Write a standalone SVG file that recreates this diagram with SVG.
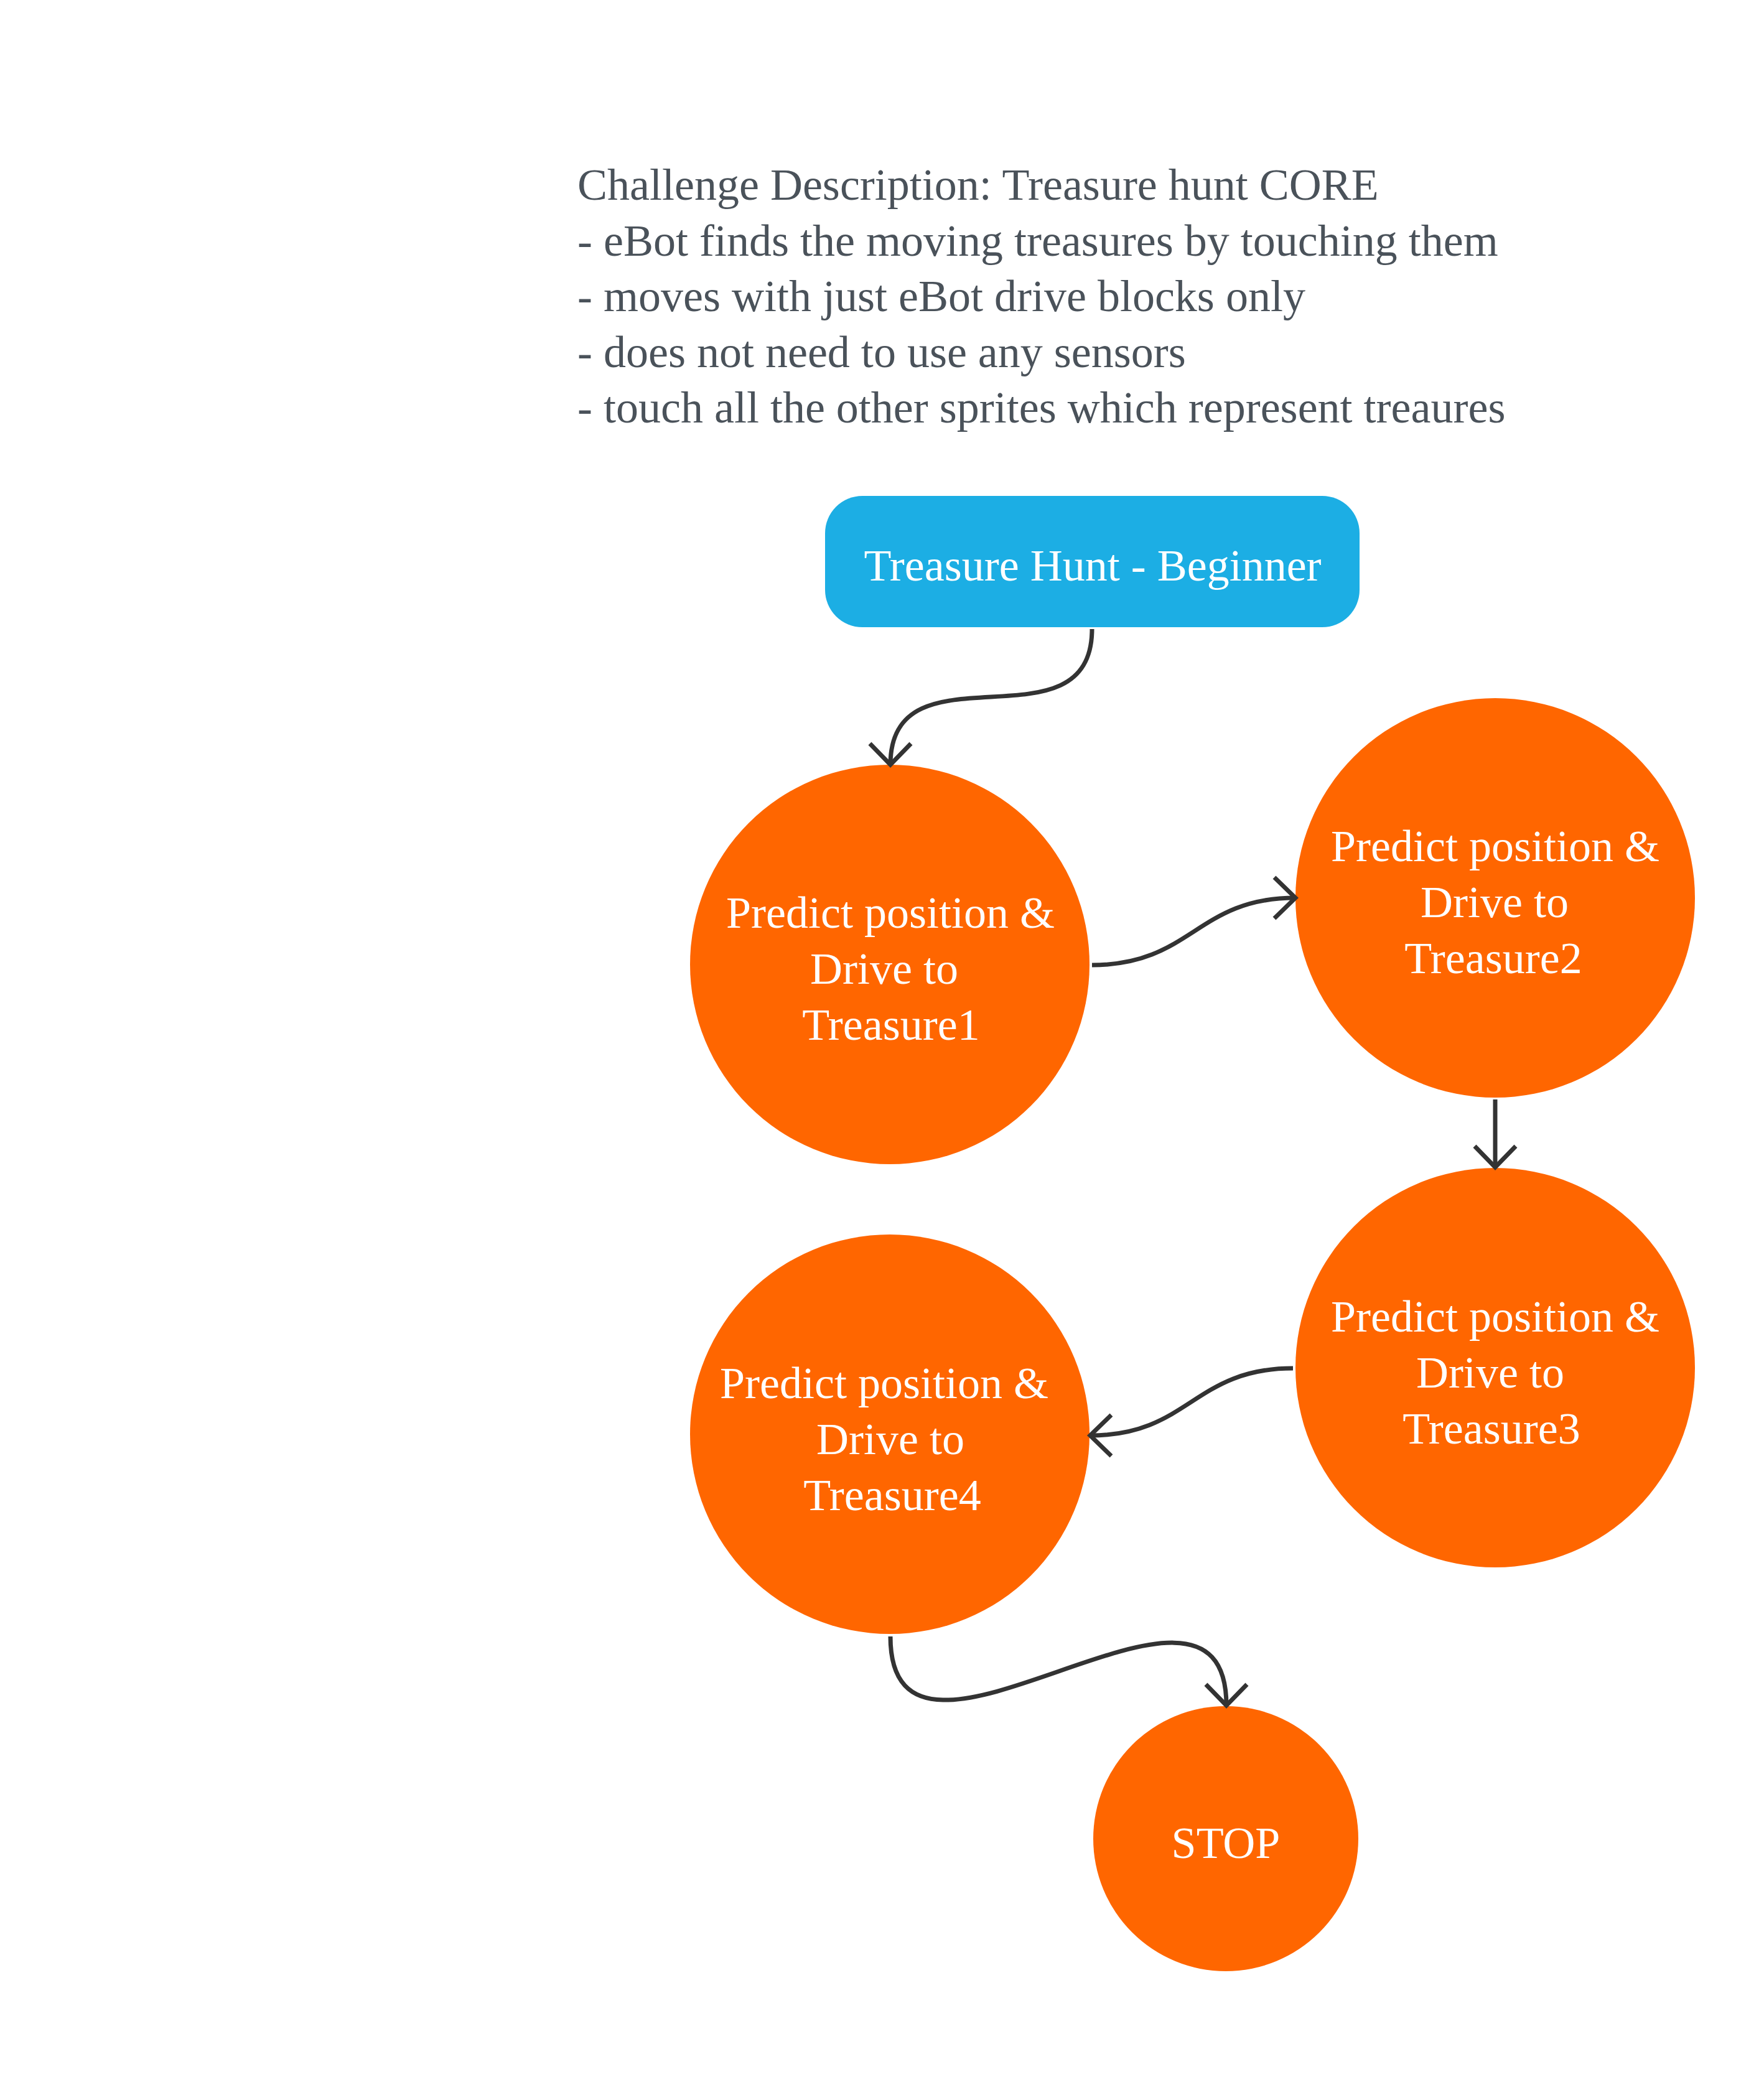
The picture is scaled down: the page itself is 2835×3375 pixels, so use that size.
<svg xmlns="http://www.w3.org/2000/svg" width="2835" height="3375" viewBox="0 0 2835 3375">
  <style>
    .desc { font-family: "Liberation Serif", "Times New Roman", serif; font-size: 72px; fill: #4a525a; }
    .lbl { font-family: "Liberation Serif", "Times New Roman", serif; font-size: 72px; fill: #ffffff; text-anchor: middle; }
    .state { fill: #ff6600; }
    .start { fill: #1caee4; }
    .conn { fill: none; stroke: #333333; stroke-width: 7; }
  </style>
  <defs>
    <marker id="arrow" markerUnits="userSpaceOnUse" markerWidth="90" markerHeight="90" viewBox="-45 -45 90 90" refX="0" refY="0" orient="auto" overflow="visible">
      <path d="M-34,-33 L0,0 L-34,33" fill="none" stroke="#333333" stroke-width="7"/>
    </marker>
  </defs>
  <rect width="2835" height="3375" fill="#ffffff"/>

  <g id="description">
    <text class="desc" x="928" y="321">Challenge Description: Treasure hunt CORE</text>
    <text class="desc" x="928" y="410.5">- eBot finds the moving treasures by touching them</text>
    <text class="desc" x="928" y="500">- moves with just eBot drive blocks only</text>
    <text class="desc" x="928" y="589.5">- does not need to use any sensors</text>
    <text class="desc" x="928" y="679">- touch all the other sprites which represent treaures</text>
  </g>

  <g id="start">
    <rect class="start" x="1326" y="797" width="859" height="211" rx="60" ry="60"/>
    <text class="lbl" x="1756" y="933">Treasure Hunt - Beginner</text>
  </g>

  <g id="treasure1">
    <circle class="state" cx="1430" cy="1550" r="321"/>
    <text class="lbl" x="1431" y="1491">Predict position &amp;</text>
    <text class="lbl" x="1421" y="1581">Drive to</text>
    <text class="lbl" x="1432" y="1671">Treasure1</text>
  </g>

  <g id="treasure2">
    <circle class="state" cx="2403" cy="1443" r="321"/>
    <text class="lbl" x="2403" y="1384">Predict position &amp;</text>
    <text class="lbl" x="2402" y="1474">Drive to</text>
    <text class="lbl" x="2400" y="1564">Treasure2</text>
  </g>

  <g id="treasure3">
    <circle class="state" cx="2403" cy="2198" r="321"/>
    <text class="lbl" x="2403" y="2140">Predict position &amp;</text>
    <text class="lbl" x="2395" y="2230">Drive to</text>
    <text class="lbl" x="2397" y="2320">Treasure3</text>
  </g>

  <g id="treasure4">
    <circle class="state" cx="1430" cy="2305" r="321"/>
    <text class="lbl" x="1421" y="2247">Predict position &amp;</text>
    <text class="lbl" x="1431" y="2337">Drive to</text>
    <text class="lbl" x="1434" y="2427">Treasure4</text>
  </g>

  <g id="stop">
    <circle class="state" cx="1970" cy="2955" r="213"/>
    <text class="lbl" x="1970" y="2986">STOP</text>
  </g>

  <g id="connectors">
    <path class="conn" d="M1755,1011 C1755,1211 1431,1029 1431,1229" marker-end="url(#arrow)"/>
    <path class="conn" d="M1755,1551 C1915,1551 1923,1443 2082,1443" marker-end="url(#arrow)"/>
    <path class="conn" d="M2403,1767 L2403,1876" marker-end="url(#arrow)"/>
    <path class="conn" d="M2078,2199 C1918,2199 1911,2307 1752,2307" marker-end="url(#arrow)"/>
    <path class="conn" d="M1431,2630 C1431,2930 1971,2443 1971,2741" marker-end="url(#arrow)"/>
  </g>
</svg>
